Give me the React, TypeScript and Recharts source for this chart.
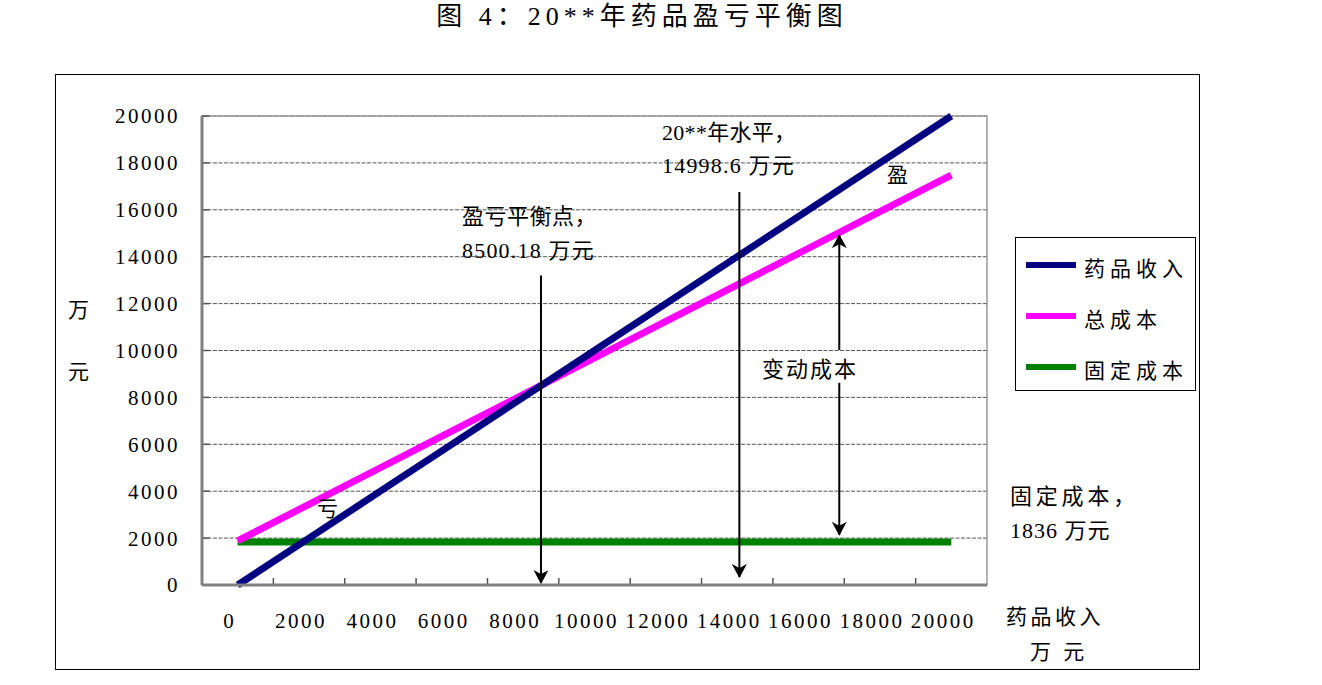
import { LineChart, Line, XAxis, YAxis, CartesianGrid, ReferenceLine, ReferenceArea } from "recharts";

// x categories (药品收入, 万元)
const categories = [0, 2000, 4000, 6000, 8000, 10000, 12000, 14000, 16000, 18000, 20000];
const revenue = [0, 2000, 4000, 6000, 8000, 10000, 12000, 14000, 16000, 18000, 20000];
const totalCost = [1880, 3440, 5000, 6560, 8120, 9680, 11240, 12800, 14360, 15920, 17480];
const fixedCost = [1836, 1836, 1836, 1836, 1836, 1836, 1836, 1836, 1836, 1836, 1836];
const yTicks = [0, 2000, 4000, 6000, 8000, 10000, 12000, 14000, 16000, 18000, 20000];
const seriesNames = ["药品收入", "总成本", "固定成本"];

const breakEven = 8500.18;
const levelX = 14060; // where the 20**年水平 arrow is drawn
const varCostX = 16860;

const data = categories.map((x, i) => ({
  x,
  revenue: revenue[i],
  total: totalCost[i],
  fixed: fixedCost[i],
}));

// Excel puts its tick marks between categories
const xMinorTicks = categories.slice(0, -1).map((c) => c + 1000);

const FONT = '"Liberation Serif", "Noto Sans CJK SC", serif';
const colors = ["#000080", "#ff00ff", "#008000"];

const Arrow = (p: any) => (
  <line x1={p.x1} y1={p.y1} x2={p.x2} y2={p.y2} stroke="#000" strokeWidth={2} markerEnd="url(#arrowHead)" />
);

function Note({ x, y, size = 22, ls = 1, children }: any) {
  return (
    <div
      style={{
        position: "absolute",
        left: x,
        top: y,
        transform: "translateY(-50%)",
        fontSize: size,
        letterSpacing: ls,
        lineHeight: 1,
        whiteSpace: "nowrap",
        color: "#000",
      }}
    >
      {children}
    </div>
  );
}

export default function App() {
  return (
    <div style={{ position: "absolute", left: 0, top: 0, width: 1322, height: 685, background: "#fff", fontFamily: FONT }}>
      {/* Title */}
      <div style={{ position: "absolute", left: 0, width: 1284, top: 17, transform: "translateY(-50%)", textAlign: "center", fontSize: 26, letterSpacing: 5, lineHeight: 1 }}>
        图 4：20**年药品盈亏平衡图
      </div>

      {/* Chart frame */}
      <div style={{ position: "absolute", left: 55, top: 74, width: 1145, height: 596, border: "1px solid #000", boxSizing: "border-box" }} />

      <div style={{ position: "absolute", left: 0, top: 0 }}>
        <LineChart width={1322} height={685} data={data} margin={{ top: 116, right: 335, bottom: 40, left: 102 }}>
          <defs>
            <marker id="arrowHead" viewBox="0 0 14 15" refX={13} refY={7.5} markerWidth={14} markerHeight={15} markerUnits="userSpaceOnUse" orient="auto">
              <path d="M0,0 L14,7.5 L0,15 L4,7.5 Z" fill="#000" />
            </marker>
          </defs>

          <CartesianGrid vertical={false} stroke="#555" strokeDasharray="4 1.5" />

          <ReferenceArea x1={-1000} x2={21000} y1={0} y2={20000} fill="none" stroke="#999" strokeWidth={1.5} />

          <XAxis
            dataKey="x"
            type="number"
            domain={[-1000, 21000]}
            ticks={categories}
            interval={0}
            height={60}
            tickLine={false}
            tickMargin={22}
            axisLine={{ stroke: "#808080", strokeWidth: 3 }}
            tick={{ fontSize: 21, fill: "#000", dx: -8, letterSpacing: 2.5 }}
          />
          <YAxis
            type="number"
            domain={[0, 20000]}
            ticks={yTicks}
            interval={0}
            width={100}
            tickLine={false}
            tickMargin={16}
            axisLine={{ stroke: "#808080", strokeWidth: 3 }}
            tick={{ fontSize: 21, fill: "#000", letterSpacing: 2.5 }}
          />

          {xMinorTicks.map((v) => (
            <ReferenceLine key={"xt" + v} segment={[{ x: v, y: 0 }, { x: v, y: 300 }]} stroke="#555" strokeWidth={1.5} />
          ))}
          {yTicks.map((v) => (
            <ReferenceLine key={"yt" + v} segment={[{ x: -1000, y: v }, { x: -800, y: v }]} stroke="#555" strokeWidth={1.5} />
          ))}

          <Line dataKey="fixed" stroke={colors[2]} strokeWidth={7} dot={false} isAnimationActive={false} />
          <Line dataKey="total" stroke={colors[1]} strokeWidth={7} dot={false} isAnimationActive={false} />
          <Line dataKey="revenue" stroke={colors[0]} strokeWidth={7} dot={false} isAnimationActive={false} />

          <ReferenceLine segment={[{ x: breakEven, y: 13200 }, { x: breakEven, y: 80 }]} shape={Arrow} />
          <ReferenceLine segment={[{ x: levelX, y: 16760 }, { x: levelX, y: 340 }]} shape={Arrow} />
          <ReferenceLine segment={[{ x: varCostX, y: 10020 }, { x: varCostX, y: 14920 }]} shape={Arrow} />
          <ReferenceLine segment={[{ x: varCostX, y: 8620 }, { x: varCostX, y: 2140 }]} shape={Arrow} />
        </LineChart>
      </div>

      {/* Axis units */}
      <Note x={68} y={310} size={21}>万</Note>
      <Note x={68} y={372} size={21}>元</Note>
      <Note x={1006} y={617} size={21} ls={3.5}>药品收入</Note>
      <Note x={1030} y={652} size={21} ls={3.5}>万 元</Note>

      {/* Annotations */}
      <Note x={317} y={509} size={21}>亏</Note>
      <Note x={887} y={175} size={21}>盈</Note>
      <Note x={462} y={217} ls={0.5}>盈亏平衡点，</Note>
      <Note x={462} y={251} ls={1.2}>8500.18 万元</Note>
      <Note x={662} y={133} ls={0.3}>20**年水平，</Note>
      <Note x={662} y={166} ls={1.2}>14998.6 万元</Note>
      <Note x={762} y={370} ls={2}>变动成本</Note>
      <Note x={1010} y={497} ls={3.8}>固定成本，</Note>
      <Note x={1010} y={531} ls={1}>1836 万元</Note>

      {/* Legend */}
      <div style={{ position: "absolute", left: 1015, top: 237, width: 181, height: 154, border: "1px solid #000", boxSizing: "border-box", background: "#fff" }}>
        {seriesNames.map((name, i) => (
          <div key={name} style={{ position: "absolute", left: 10, top: 16 + i * 51, display: "flex", alignItems: "center", height: 30 }}>
            <div style={{ width: 50, height: 6, background: colors[i], marginTop: -8 }} />
            <span style={{ marginLeft: 8, fontSize: 21, letterSpacing: 5, lineHeight: 1 }}>{name}</span>
          </div>
        ))}
      </div>
    </div>
  );
}
